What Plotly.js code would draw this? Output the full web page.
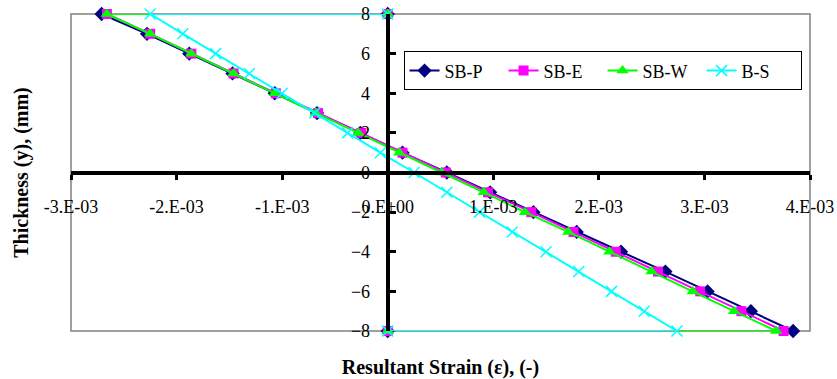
<!DOCTYPE html>
<html>
<head>
<meta charset="utf-8">
<script src="https://cdn.plot.ly/plotly-3.0.1.min.js"></script>
<style>html,body{margin:0;padding:0;background:#fff;}#chart{width:837px;height:379px;}</style>
</head>
<body>
<div id="chart"></div>
<script>
// Thickness levels (mm), top to bottom
const thickness = [8, 7, 6, 5, 4, 3, 2, 1, 0, -1, -2, -3, -4, -5, -6, -7, -8];
// Resultant strain for each series (at the thickness levels above)
const strainSBP = [-2.71e-3, -2.28e-3, -1.88e-3, -1.47e-3, -1.07e-3, -0.67e-3, -0.26e-3, 0.14e-3, 0.56e-3, 0.97e-3, 1.38e-3, 1.79e-3, 2.21e-3, 2.63e-3, 3.03e-3, 3.44e-3, 3.84e-3];
const strainSBE = [-2.66e-3, -2.25e-3, -1.86e-3, -1.46e-3, -1.06e-3, -0.66e-3, -0.25e-3, 0.14e-3, 0.55e-3, 0.95e-3, 1.36e-3, 1.76e-3, 2.16e-3, 2.56e-3, 2.96e-3, 3.35e-3, 3.75e-3];
const strainSBW = [-2.66e-3, -2.25e-3, -1.86e-3, -1.46e-3, -1.07e-3, -0.68e-3, -0.28e-3, 0.11e-3, 0.51e-3, 0.91e-3, 1.30e-3, 1.71e-3, 2.10e-3, 2.50e-3, 2.89e-3, 3.28e-3, 3.68e-3];
const strainBS  = [-2.25e-3, -1.94e-3, -1.63e-3, -1.31e-3, -1.00e-3, -0.69e-3, -0.38e-3, -0.07e-3, 0.25e-3, 0.56e-3, 0.87e-3, 1.18e-3, 1.50e-3, 1.81e-3, 2.12e-3, 2.43e-3, 2.74e-3];
// Closing points of each stress block at the surfaces (strain 0 at top and bottom)
const topClose = {x: 0, y: 8};
const bottomClose = {x: 0, y: -8};
const seriesNames = ['SB-P', 'SB-E', 'SB-W', 'B-S'];
const xTickVals = [-3e-3, -2e-3, -1e-3, 0, 1e-3, 2e-3, 3e-3, 4e-3];
const xTickText = ['-3.E-03', '-2.E-03', '-1.E-03', '0.E+00', '1.E-03', '2.E-03', '3.E-03', '4.E-03'];
const yTickVals = [-8, -6, -4, -2, 0, 2, 4, 6, 8];

function closed(strain) {
  return {
    x: [topClose.x].concat(strain, [bottomClose.x]),
    y: [topClose.y].concat(thickness, [bottomClose.y])
  };
}

const styles = [
  {color: '#000080', symbol: 'diamond', size: 11},
  {color: '#FF00FF', symbol: 'square', size: 10},
  {color: '#00FF00', symbol: 'triangle-up', size: 11},
  {color: '#00FFFF', symbol: 'x-thin', size: 11}
];
const allStrain = [strainSBP, strainSBE, strainSBW, strainBS];

const traces = allStrain.map((s, i) => {
  const d = closed(s);
  const st = styles[i];
  return {
    type: 'scatter', mode: 'lines+markers', name: seriesNames[i],
    x: d.x, y: d.y, cliponaxis: false,
    line: {color: st.color, width: 2},
    marker: {symbol: st.symbol, size: st.size, color: st.color,
             line: {color: st.color, width: st.symbol === 'x-thin' ? 1.5 : 0}}
  };
});

const serif = '"Liberation Serif", "Times New Roman", serif';
const layout = {
  width: 837, height: 379,
  margin: {l: 71, r: 27, t: 14, b: 48},
  paper_bgcolor: '#fff', plot_bgcolor: '#fff',
  font: {family: serif, size: 18, color: '#000'},
  showlegend: true,
  legend: {
    orientation: 'h', x: 0.45, y: 0.882, xanchor: 'left', yanchor: 'top',
    bgcolor: '#fff', bordercolor: '#000', borderwidth: 1,
    entrywidth: 54, entrywidthmode: 'pixels',
    font: {family: serif, size: 18, color: '#000'}
  },
  xaxis: {
    range: [-3e-3, 4e-3], anchor: 'free', position: 0.5,
    showline: true, linecolor: '#000', linewidth: 4,
    showgrid: false, zeroline: false,
    tickmode: 'array', tickvals: xTickVals, ticktext: xTickText,
    ticks: 'outside', ticklen: 5, tickwidth: 3, tickcolor: '#000',
    ticklabelstandoff: 12,
    tickfont: {family: serif, size: 18, color: '#000'},
    title: {text: '<b>Resultant Strain (ε), (-)</b>', font: {family: serif, size: 20, color: '#000'}, standoff: 146}
  },
  yaxis: {
    range: [-8, 8], anchor: 'free', position: 3/7,
    showline: true, linecolor: '#000', linewidth: 4,
    showgrid: false, zeroline: false,
    tickmode: 'array', tickvals: yTickVals,
    ticks: 'inside', ticklen: 6, tickwidth: 3, tickcolor: '#000',
    ticklabelstandoff: 12,
    tickfont: {family: serif, size: 18, color: '#000'},
    title: {text: '<b>Thickness (y), (mm)</b>', font: {family: serif, size: 20, color: '#000'}, standoff: 316}
  },
  shapes: [{
    type: 'rect', xref: 'paper', yref: 'paper', x0: 0, x1: 1, y0: 0, y1: 1,
    line: {color: '#808080', width: 1.5}, layer: 'below'
  }]
};

Plotly.newPlot('chart', traces, layout, {displayModeBar: false, staticPlot: true});
</script>
</body>
</html>
